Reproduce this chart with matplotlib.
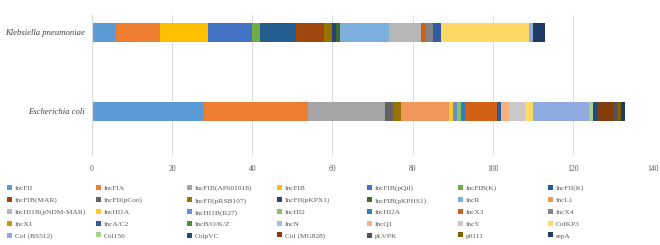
import matplotlib
matplotlib.use("Agg")
import matplotlib.pyplot as plt
from matplotlib.patches import Patch

# categories (bottom to top)
species = ['Escherichia coli', 'Klebsiella pneumoniae']

# replicon types, in legend order
replicons = ['IncFII', 'IncFIA', 'IncFIB(AP001918)', 'IncFIB', 'IncFIB(pQil)', 'IncFIB(K)', 'IncFII(K)',
             'IncFIB(MAR)', 'IncFII(pCoo)', 'IncFII(pRSB107)', 'IncFII(pKPX1)', 'IncFIB(pKPHS1)', 'IncR', 'IncL1',
             'IncHI1B(pNDM-MAR)', 'IncHI1A', 'IncHI1B(R27)', 'IncHI2', 'IncHI2A', 'IncX3', 'IncX4',
             'IncX1', 'IncA/C2', 'IncB/O/K/Z', 'IncN', 'IncQ1', 'IncY', 'ColKP3',
             'Col (BS512)', 'Col156', 'ColpVC', 'Col (MG828)', 'pLVPK', 'p0111', 'repA']

# counts per replicon: E. coli / K. pneumoniae
ecoli = [28, 26, 19, 0, 0, 0, 0,
         0, 2, 2, 0, 0, 0, 12,
         0, 1, 1, 1, 1, 8, 0,
         0, 1, 0, 0, 2, 4, 2,
         14, 1, 1, 4, 1, 1, 1]
kpneu = [6, 11, 0, 12, 11, 2, 9,
         7, 0, 2, 1, 1, 12, 0,
         8, 0, 0, 0, 0, 1, 2,
         0, 2, 0, 0, 0, 0, 22,
         1, 0, 0, 0, 0, 0, 3]

colors = ['#5B9BD5', '#ED7D31', '#A5A5A5', '#FFC000', '#4472C4', '#70AD47',
          '#255E91', '#9E480E', '#636363', '#997300', '#264478', '#43682B',
          '#7CAFDD', '#F1975A', '#B7B7B7', '#FFCD33', '#698ED0', '#8CC168',
          '#327DC2', '#D26012', '#848484', '#CC9A00', '#335AA1', '#5A8A39',
          '#9DC3E6', '#F4B183', '#C9C9C9', '#FFD966', '#8FAADC', '#A9D18E',
          '#1F4E79', '#843C0C', '#525252', '#7F6000', '#203864']

serif = ['Liberation Serif', 'DejaVu Serif']
grey = '#595959'

fig = plt.figure(figsize=(6.6, 2.45), dpi=100)
ax = fig.add_axes([92 / 660, 1 - 155 / 245, 561 / 660, 140 / 245])

left = [0, 0]
for name, e, k, c in zip(replicons, ecoli, kpneu, colors):
    ax.barh([0, 1], [e, k], left=left, height=0.235, color=c, label=name)
    left = [left[0] + e, left[1] + k]

ax.set_xlim(0, 140)
ax.set_ylim(-0.55, 1.22)
ax.set_xticks(range(0, 141, 20))
ax.set_yticks([0, 1])
ax.set_yticklabels(species, fontsize=6.2, style='italic', family=serif, color='#404040')
ax.tick_params(axis='x', length=0, pad=7, labelsize=5.5, labelcolor=grey)
ax.tick_params(axis='y', length=0, pad=5)
for lab in ax.get_xticklabels():
    lab.set_family(serif)
ax.grid(axis='x', color='#D9D9D9', linewidth=0.7)
ax.set_axisbelow(True)
for s in ['top', 'right', 'bottom']:
    ax.spines[s].set_visible(False)
ax.spines['left'].set_color('#D9D9D9')

# legend: 7 columns, evenly spaced like the Excel layout
ncol = 7
col_x = [7, 96, 187, 277, 367, 458, 548]
for c in range(ncol):
    idx = list(range(c, len(replicons), ncol))
    handles = [Patch(facecolor=colors[i], label=replicons[i]) for i in idx]
    fig.legend(handles=handles, loc='upper left', bbox_to_anchor=(col_x[c] / 660, 1 - 185 / 245),
               frameon=False, handlelength=0.65, handleheight=0.65,
               handletextpad=0.45, labelspacing=0.78, borderpad=0, borderaxespad=0,
               labelcolor=grey, prop={'family': serif, 'size': 5.3})

fig.savefig('out.png', dpi=100)
